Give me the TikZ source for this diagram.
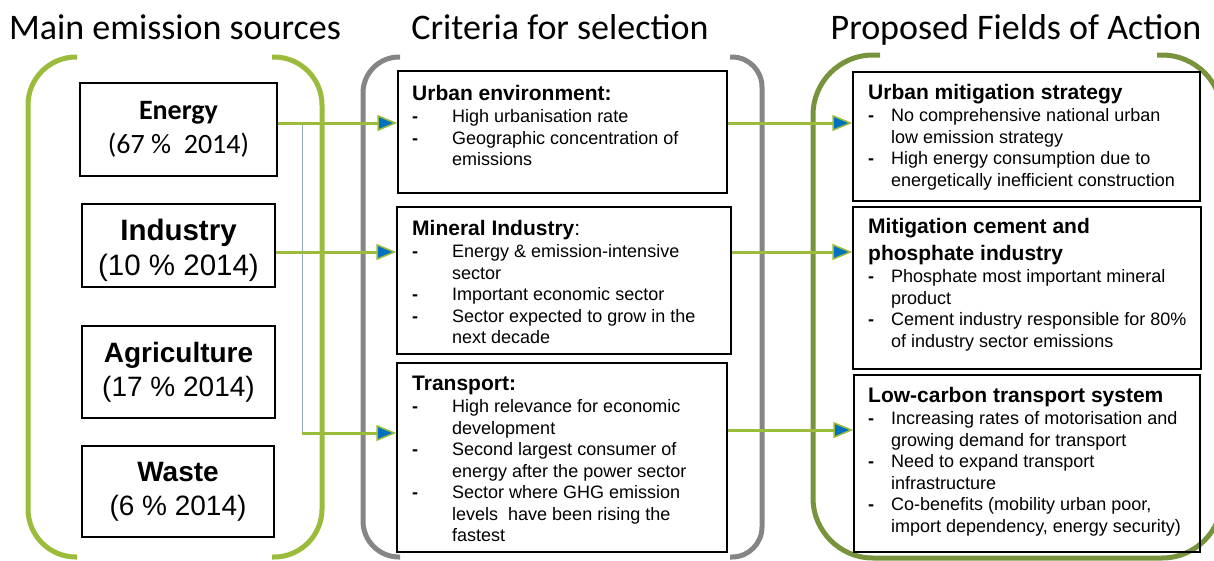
\documentclass[tikz,border=0pt]{standalone}
\usepackage{fontspec}
\setmainfont{Liberation Sans}
\newfontfamily\calfont{Carlito}
\usetikzlibrary{arrows.meta}
\definecolor{lgreen}{HTML}{9BBB3B}
\definecolor{dgreen}{HTML}{77933C}
\definecolor{bgray}{HTML}{858585}
\definecolor{ablue}{HTML}{0070C0}
\definecolor{thinblue}{HTML}{93A8B5}
\newcommand{\hdfont}{\fontsize{21}{21}\selectfont\bfseries}
\newcommand{\dsh}{\textbf{-}}
\begin{document}
\begin{tikzpicture}[x=1pt,y=-1pt,
  bracket/.style={line width=5pt},
  box/.style={draw=black, line width=1.4pt, inner sep=0pt},
  srcbox/.style={box, align=center, font=\fontsize{28}{34}\selectfont},
  txt/.style={inner sep=0pt, anchor=base west, font=\fontsize{18}{21.5}\selectfont},
  title/.style={inner sep=0pt, anchor=base, font=\calfont\fontsize{36}{40}\selectfont},
  arr/.style={draw=lgreen, line width=3pt, -{Triangle[length=20pt,width=16pt,fill=ablue,line width=1.5pt]}},
  thin/.style={draw=thinblue, line width=1pt}]
\useasboundingbox (0,0) rectangle (1214,560);

% titles
\node[title] (t1) at (175,39) {Main emission sources};
\node[title] (t2) at (560,39) {Criteria for selection};
\node[title] (t3) at (1016,39) {Proposed Fields of Action};

% brackets
\draw[bracket, draw=lgreen, rounded corners=48pt] (77,57) -- (28,57) -- (28,557) -- (77,557);
\draw[bracket, draw=lgreen, rounded corners=48pt] (272,57) -- (322,57) -- (322,557) -- (272,557);
\draw[bracket, draw=bgray, rounded corners=36pt] (400,57) -- (363,57) -- (363,557) -- (400,557);
\draw[bracket, draw=bgray, rounded corners=30pt] (730,57) -- (762,57) -- (762,557) -- (730,557);
\draw[bracket, draw=dgreen, rounded corners=60pt] (880,55) -- (813,55) -- (813,558) -- (1222,558) -- (1222,55) -- (1157,55);

% source boxes
\node[srcbox, minimum width=197pt, minimum height=93pt] (energy) at (178.5,129.5)
  {{\calfont\bfseries Energy}\\{\calfont (67 \%\ \ 2014)}};
\node[box, minimum width=193pt, minimum height=83pt] (industry) at (178.5,245.5) {};
\node[inner sep=0pt, align=center, font=\fontsize{29.5}{35}\selectfont] (industryt) at (178.5,250)
  {{\bfseries Industry}\\(10 \% 2014)};
\node[srcbox, minimum width=193pt, minimum height=92pt] (agri) at (178.5,372)
  {{\bfseries Agriculture}\\(17 \% 2014)};
\node[srcbox, minimum width=192pt, minimum height=91pt] (waste) at (178,491.5)
  {{\bfseries Waste}\\(6 \% 2014)};

% criteria boxes
\node[box, minimum width=329pt, minimum height=122pt] (urban) at (562.5,132) {};
\node[box, minimum width=334pt, minimum height=147pt] (mineral) at (564,280.5) {};
\node[box, minimum width=330pt, minimum height=189pt] (transport) at (562,457.5) {};

\node[txt] (urbant) at (412,100) {\begin{tabular}[t]{@{}p{40pt}@{}l@{}}
\multicolumn{2}{@{}l@{}}{\hdfont Urban environment:}\\[1pt]
\dsh & High urbanisation rate\\
\dsh & Geographic concentration of\\
  & emissions
\end{tabular}};
\node[txt] (mineralt) at (412,235) {\begin{tabular}[t]{@{}p{40pt}@{}l@{}}
\multicolumn{2}{@{}l@{}}{{\hdfont Mineral Industry}{\fontsize{21}{21}\selectfont :}}\\[1pt]
\dsh & Energy \& emission-intensive\\
  & sector\\
\dsh & Important economic sector\\
\dsh & Sector expected to grow in the\\
  & next decade
\end{tabular}};
\node[txt] (transportt) at (412,390) {\begin{tabular}[t]{@{}p{40pt}@{}l@{}}
\multicolumn{2}{@{}l@{}}{\hdfont Transport:}\\[1pt]
\dsh & High relevance for economic\\
  & development\\
\dsh & Second largest consumer of\\
  & energy after the power sector\\
\dsh & Sector where GHG emission\\
  & levels\ \ have been rising the\\
  & fastest
\end{tabular}};

% fields of action boxes
\node[box, minimum width=347pt, minimum height=129pt] (umit) at (1026.5,136.5) {};
\node[box, minimum width=348pt, minimum height=162pt] (cement) at (1027,288) {};
\node[box, minimum width=346pt, minimum height=177pt] (lowc) at (1027,463.5) {};

\node[txt] (umitt) at (868,99) {\begin{tabular}[t]{@{}p{23pt}@{}l@{}}
\multicolumn{2}{@{}l@{}}{\hdfont Urban mitigation strategy}\\[1pt]
\dsh & No comprehensive national urban\\
  & low emission strategy\\
\dsh & High energy consumption due to\\
  & energetically inefficient construction
\end{tabular}};
\node[txt] (cementt) at (868,233) {\begin{tabular}[t]{@{}p{23pt}@{}l@{}}
\multicolumn{2}{@{}l@{}}{\hdfont Mitigation cement and}\\[5.5pt]
\multicolumn{2}{@{}l@{}}{\hdfont phosphate industry}\\[1pt]
\dsh & Phosphate most important mineral\\
  & product\\
\dsh & Cement industry responsible for 80\%\\
  & of industry sector emissions
\end{tabular}};
\node[txt] (lowct) at (868,402) {\begin{tabular}[t]{@{}p{23pt}@{}l@{}}
\multicolumn{2}{@{}l@{}}{\hdfont Low-carbon transport system}\\[1pt]
\dsh & Increasing rates of motorisation and\\
  & growing demand for transport\\
\dsh & Need to expand transport\\
  & infrastructure\\
\dsh & Co-benefits (mobility urban poor,\\
  & import dependency, energy security)
\end{tabular}};

% connectors
\coordinate (r1) at (0,123);
\coordinate (r2) at (0,252);
\coordinate (r3) at (0,433);
\coordinate (s3) at (0,430);
\coordinate (j1) at (302,123);
\coordinate (j2) at (302,433);
\draw[thin] (j1) -- (j2);
\draw[arr] (energy.east |- r1) -- (urban.west |- r1);
\draw[arr] (industry.east |- r2) -- (mineral.west |- r2);
\draw[arr] (j2) -- (transport.west |- r3);
\draw[arr] (urban.east |- r1) -- (umit.west |- r1);
\draw[arr] (mineral.east |- r2) -- (cement.west |- r2);
\draw[arr] (transport.east |- s3) -- (lowc.west |- s3);
\end{tikzpicture}
\end{document}
